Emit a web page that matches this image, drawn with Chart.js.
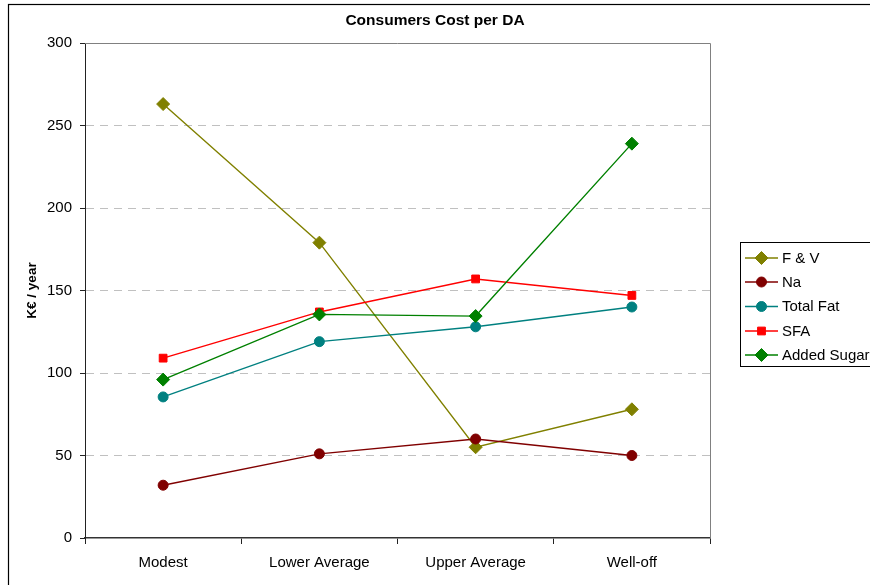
<!DOCTYPE html>
<html>
<head>
<meta charset="utf-8">
<script src="https://cdn.jsdelivr.net/npm/chart.js@4/dist/chart.umd.min.js"></script>
<style>
  html, body { margin: 0; padding: 0; background: #fff; }
  #wrap { width: 870px; height: 585px; position: relative; }
</style>
</head>
<body>
<div id="wrap"><canvas id="c" width="870" height="585"></canvas></div>
<script>
const categories = ['Modest', 'Lower Average', 'Upper Average', 'Well-off'];
const fvCost = [263, 179, 55, 78];
const naCost = [32, 51, 60, 50];
const totalFatCost = [85.5, 119, 128, 140];
const sfaCost = [109, 137, 157, 147];
const addedSugarCost = [96, 135.5, 134.5, 239];
const yTicks = [0, 50, 100, 150, 200, 250, 300];

const FONT = "'Liberation Sans', Arial, sans-serif";

function series(label, data, color, pointStyle, radius, order) {
  return {
    label, data,
    borderColor: color,
    backgroundColor: color,
    pointBackgroundColor: color,
    pointBorderColor: color,
    pointStyle,
    pointRadius: radius,
    pointHoverRadius: radius,
    pointBorderWidth: 1,
    borderWidth: 1.4,
    tension: 0,
    fill: false,
    order
  };
}

const datasets = [
  series('F & V', fvCost, '#808000', 'rectRot', 6.5, 5),
  series('Na', naCost, '#800000', 'circle', 5, 4),
  series('Total Fat', totalFatCost, '#008080', 'circle', 5, 3),
  series('SFA', sfaCost, '#ff0000', 'rect', 5.5, 2),
  series('Added Sugar', addedSugarCost, '#008000', 'rectRot', 6.5, 1)
];

// frame, title, plot border and legend box
const decorations = {
  id: 'decorations',
  beforeDatasetsDraw(chart) {
    const { ctx, chartArea: a } = chart;
    ctx.save();
    ctx.strokeStyle = '#808080';
    ctx.lineWidth = 1;
    ctx.beginPath();
    ctx.moveTo(a.left, Math.round(a.top) + 0.5);
    ctx.lineTo(Math.round(a.right) + 0.5, Math.round(a.top) + 0.5);
    ctx.lineTo(Math.round(a.right) + 0.5, a.bottom);
    ctx.stroke();
    ctx.restore();
  },
  afterDraw(chart) {
    const { ctx } = chart;
    ctx.save();
    // outer frame
    ctx.strokeStyle = '#000';
    ctx.lineWidth = 1.2;
    ctx.strokeRect(8.5, 4.5, 1000, 1000);

    // title
    ctx.fillStyle = '#000';
    ctx.font = 'bold 15.5px ' + FONT;
    ctx.textAlign = 'center';
    ctx.textBaseline = 'middle';
    ctx.fillText('Consumers Cost per DA', 435, 20.5);

    // legend
    ctx.lineWidth = 1;
    ctx.strokeStyle = '#000';
    ctx.strokeRect(740.5, 242.5, 300, 124);
    ctx.font = '15px ' + FONT;
    ctx.textAlign = 'left';
    const rowY = [258, 282, 306.5, 331, 355];
    datasets.forEach((ds, i) => {
      const y = rowY[i];
      ctx.strokeStyle = ds.borderColor;
      ctx.lineWidth = 1.4;
      ctx.beginPath();
      ctx.moveTo(745, y);
      ctx.lineTo(778, y);
      ctx.stroke();
      ctx.fillStyle = ds.pointBackgroundColor;
      ctx.strokeStyle = ds.pointBorderColor;
      ctx.lineWidth = 1;
      Chart.helpers.drawPoint(ctx, {
        pointStyle: ds.pointStyle, radius: ds.pointRadius, borderWidth: 1, rotation: 0
      }, 761.5, y);
      ctx.fillStyle = '#000';
      ctx.fillText(ds.label, 782, y + 0.5);
    });
    ctx.restore();
  }
};

new Chart(document.getElementById('c'), {
  type: 'line',
  data: { labels: categories, datasets },
  plugins: [decorations],
  options: {
    responsive: false,
    animation: false,
    events: [],
    layout: { padding: { left: 0, top: 43, right: 160, bottom: 0 } },
    plugins: { legend: { display: false }, title: { display: false }, tooltip: { enabled: false } },
    scales: {
      x: {
        type: 'category',
        offset: true,
        afterFit(scale) { scale.height = 47; },
        grid: {
          offset: true,
          color: 'rgba(0,0,0,0)',
          drawTicks: true,
          tickLength: 6,
          tickColor: '#222',
          tickWidth: 1,
          tickBorderDash: []
        },
        border: { display: true, color: '#333', width: 1.6 },
        ticks: {
          color: '#000',
          font: { family: FONT, size: 15 },
          padding: 10,
          maxRotation: 0,
          autoSkip: false
        }
      },
      y: {
        min: 0,
        max: 300,
        afterFit(scale) { scale.width = 85; },
        afterBuildTicks(scale) { scale.ticks = yTicks.map(v => ({ value: v })); },
        grid: {
          color: (c) => (c.tick && (c.tick.value === 0 || c.tick.value === 300)) ? 'rgba(0,0,0,0)' : '#c0c0c0',
          lineWidth: 1,
          drawTicks: true,
          tickLength: 5,
          tickColor: '#222',
          tickWidth: 1,
          tickBorderDash: []
        },
        border: { display: true, color: '#222', width: 1, dash: [8, 6] },
        ticks: {
          color: '#000',
          font: { family: FONT, size: 15 },
          padding: 8
        },
        title: {
          display: true,
          text: 'K€ / year',
          color: '#000',
          font: { family: FONT, size: 13.5, weight: 'bold' },
          padding: { top: 24, bottom: 0 }
        }
      }
    }
  }
});
</script>
</body>
</html>
